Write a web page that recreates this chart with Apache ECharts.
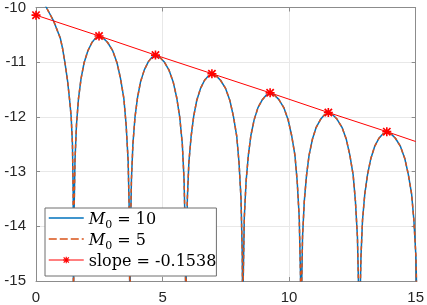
<!DOCTYPE html>
<html><head><meta charset="utf-8">
<script src="https://cdn.jsdelivr.net/npm/echarts@6/dist/echarts.min.js"></script>
<style>html,body{margin:0;padding:0;background:#fff}#c{width:427px;height:305px}</style>
</head><body><div id="c"></div>
<script>
// curve samples (x, log value)
const curveX = [
 0, 0.2, 0.41, 0.7, 0.96, 1.05, 1.14, 1.25, 1.33, 1.39, 1.44, 1.47, 1.48,
 1.50, 1.54, 1.60, 1.68, 1.78, 1.90, 2.05, 2.21, 2.35, 2.49, 2.66, 2.83, 3.03, 3.20, 3.34, 3.47, 3.56, 3.64, 3.69, 3.71,
 3.73, 3.77, 3.83, 3.91, 4.01, 4.13, 4.28, 4.44, 4.58, 4.72, 4.89, 5.06, 5.25, 5.42, 5.56, 5.68, 5.78, 5.85, 5.90, 5.92,
 5.94, 5.98, 6.04, 6.13, 6.23, 6.35, 6.50, 6.66, 6.81, 6.95, 7.12, 7.29, 7.49, 7.66, 7.80, 7.93, 8.02, 8.10, 8.15, 8.17,
 8.19, 8.23, 8.30, 8.39, 8.49, 8.62, 8.77, 8.95, 9.10, 9.25, 9.42, 9.59, 9.79, 9.96, 10.10, 10.23, 10.32, 10.40, 10.45, 10.47,
 10.49, 10.53, 10.60, 10.69, 10.79, 10.92, 11.07, 11.25, 11.40, 11.55, 11.72, 11.89, 12.09, 12.26, 12.40, 12.53, 12.62, 12.70, 12.75, 12.77,
 12.79, 12.84, 12.90, 12.99, 13.10, 13.23, 13.38, 13.55, 13.71, 13.86, 14.03, 14.20, 14.40, 14.57, 14.71, 14.84, 14.93, 15.01, 15.06, 15.08
];
const curveY = [
 -9.7, -9.82, -10.0, -10.25, -10.56, -10.75, -11.0, -11.35, -11.7, -12.0, -12.5, -13.4, -16,
 -13.85, -12.80, -12.14, -11.66, -11.30, -11.01, -10.79, -10.64, -10.56, -10.54, -10.56, -10.64, -10.79, -11.01, -11.30, -11.66, -12.14, -12.80, -13.85, -16,
 -14.20, -13.15, -12.49, -12.01, -11.65, -11.36, -11.14, -10.99, -10.91, -10.89, -10.91, -10.99, -11.14, -11.36, -11.65, -12.01, -12.49, -13.15, -14.20, -16,
 -14.54, -13.49, -12.83, -12.35, -11.99, -11.70, -11.48, -11.33, -11.25, -11.23, -11.25, -11.33, -11.48, -11.70, -11.99, -12.35, -12.83, -13.49, -14.54, -16,
 -14.89, -13.84, -13.18, -12.70, -12.34, -12.05, -11.83, -11.68, -11.60, -11.58, -11.60, -11.68, -11.83, -12.05, -12.34, -12.70, -13.18, -13.84, -14.89, -16,
 -15.25, -14.20, -13.54, -13.06, -12.70, -12.41, -12.19, -12.04, -11.96, -11.94, -11.96, -12.04, -12.19, -12.41, -12.70, -13.06, -13.54, -14.20, -15.25, -16,
 -15.60, -14.55, -13.89, -13.41, -13.05, -12.76, -12.54, -12.39, -12.31, -12.29, -12.31, -12.39, -12.54, -12.76, -13.05, -13.41, -13.89, -14.55, -15.60, -16
];
// fitted slope line: marked peaks, plus its end at the right edge
const starX = [0, 2.49, 4.72, 6.95, 9.25, 11.55, 13.86];
const starY = [-10.14, -10.52, -10.87, -11.21, -11.56, -11.92, -12.27];
const lineEndX = 15;
const lineEndY = -12.45;
const xTicks = [0, 5, 10, 15];
const yTicks = [-15, -14, -13, -12, -11, -10];
const seriesNames = ['M0 = 10', 'M0 = 5', 'slope = -0.1538'];

const curve = curveX.map((x, i) => [x, curveY[i]]);
const slopeData = starX.map((x, i) => [x, starY[i]]);
slopeData.push({ value: [lineEndX, lineEndY], symbol: 'none' });

const asterisk = 'path://M4.1 0L5.9 0L5.9 10L4.1 10Z M0 4.1L10 4.1L10 5.9L0 5.9Z M0.3 1.6L1.6 0.3L9.7 8.4L8.4 9.7Z M8.4 0.3L9.7 1.6L1.6 9.7L0.3 8.4Z';
const axisCol = '#8c8c8c';
const lblCol = '#262626';
const serif = '"DejaVu Serif"';

const chart = echarts.init(document.getElementById('c'), null, { renderer: 'canvas' });
const baseX = {
  type: 'value', min: xTicks[0], max: xTicks[xTicks.length - 1], interval: 5,
  axisLine: { show: true, onZero: false, lineStyle: { color: axisCol, width: 1 } },
  axisTick: { show: true, inside: true, length: 4, lineStyle: { color: axisCol } },
};
const baseY = {
  type: 'value', min: yTicks[0], max: yTicks[yTicks.length - 1], interval: 1,
  axisLine: { show: true, onZero: false, lineStyle: { color: axisCol, width: 1 } },
  axisTick: { show: true, inside: true, length: 4, lineStyle: { color: axisCol } },
};
chart.setOption({
  animation: false,
  grid: { left: 36, right: 10, top: 7, bottom: 23, containLabel: false },
  xAxis: [
    Object.assign({}, baseX, {
      position: 'bottom',
      axisLabel: { color: lblCol, fontSize: 15, fontFamily: 'Liberation Sans', margin: 9 },
      splitLine: { show: true, lineStyle: { color: '#e8e8e8', width: 1 } }
    }),
    Object.assign({}, baseX, { position: 'top', axisLabel: { show: false }, splitLine: { show: false } })
  ],
  yAxis: [
    Object.assign({}, baseY, {
      position: 'left',
      axisLabel: { color: lblCol, fontSize: 15, fontFamily: 'Liberation Sans', margin: 10 },
      splitLine: { show: true, lineStyle: { color: '#e8e8e8', width: 1 } }
    }),
    Object.assign({}, baseY, { position: 'right', axisLabel: { show: false }, splitLine: { show: false } })
  ],
  legend: {
    orient: 'vertical', left: 45, top: 208,
    padding: [3, 0, 6, 3], itemGap: 1, itemWidth: 35, itemHeight: 8,
    backgroundColor: '#fff', borderColor: '#6e6e6e', borderWidth: 1,
    data: [
      { name: seriesNames[0], itemStyle: { opacity: 0 }, lineStyle: { width: 1.5 } },
      { name: seriesNames[1], itemStyle: { opacity: 0 }, lineStyle: { width: 1.5, type: [8, 3] } },
      { name: seriesNames[2], lineStyle: { width: 1 } }
    ],
    formatter: function (name) {
      if (name.startsWith('M0')) {
        return '{m|M}{s|0}{t|' + name.slice(2) + '}';
      }
      return '{t|' + name + '}';
    },
    textStyle: {
      color: '#000', fontFamily: serif, fontSize: 16,
      rich: {
        m: { fontFamily: serif, fontStyle: 'italic', fontSize: 16, lineHeight: 14, padding: [1, 0, 0, 0], verticalAlign: 'top', color: '#000' },
        s: { fontFamily: serif, fontSize: 11, lineHeight: 10, padding: [9, 0, 0, 0], verticalAlign: 'top', color: '#000' },
        t: { fontFamily: serif, fontSize: 16, lineHeight: 14, padding: [1, 0, 0, 0], verticalAlign: 'top', color: '#000' }
      }
    }
  },
  series: [
    { name: seriesNames[0], type: 'line', data: curve, symbol: 'none', clip: true,
      lineStyle: { color: '#0072BD', width: 1.5 }, itemStyle: { color: '#0072BD' } },
    { name: seriesNames[1], type: 'line', data: curve, symbol: 'none', clip: true,
      lineStyle: { color: '#D95319', width: 1.5, type: [4, 3] }, itemStyle: { color: '#D95319' } },
    { name: seriesNames[2], type: 'line', data: slopeData, symbol: asterisk, symbolSize: 9, clip: true,
      lineStyle: { color: '#FF0000', width: 1 }, itemStyle: { color: '#FF0000' } }
  ]
});
</script></body></html>
